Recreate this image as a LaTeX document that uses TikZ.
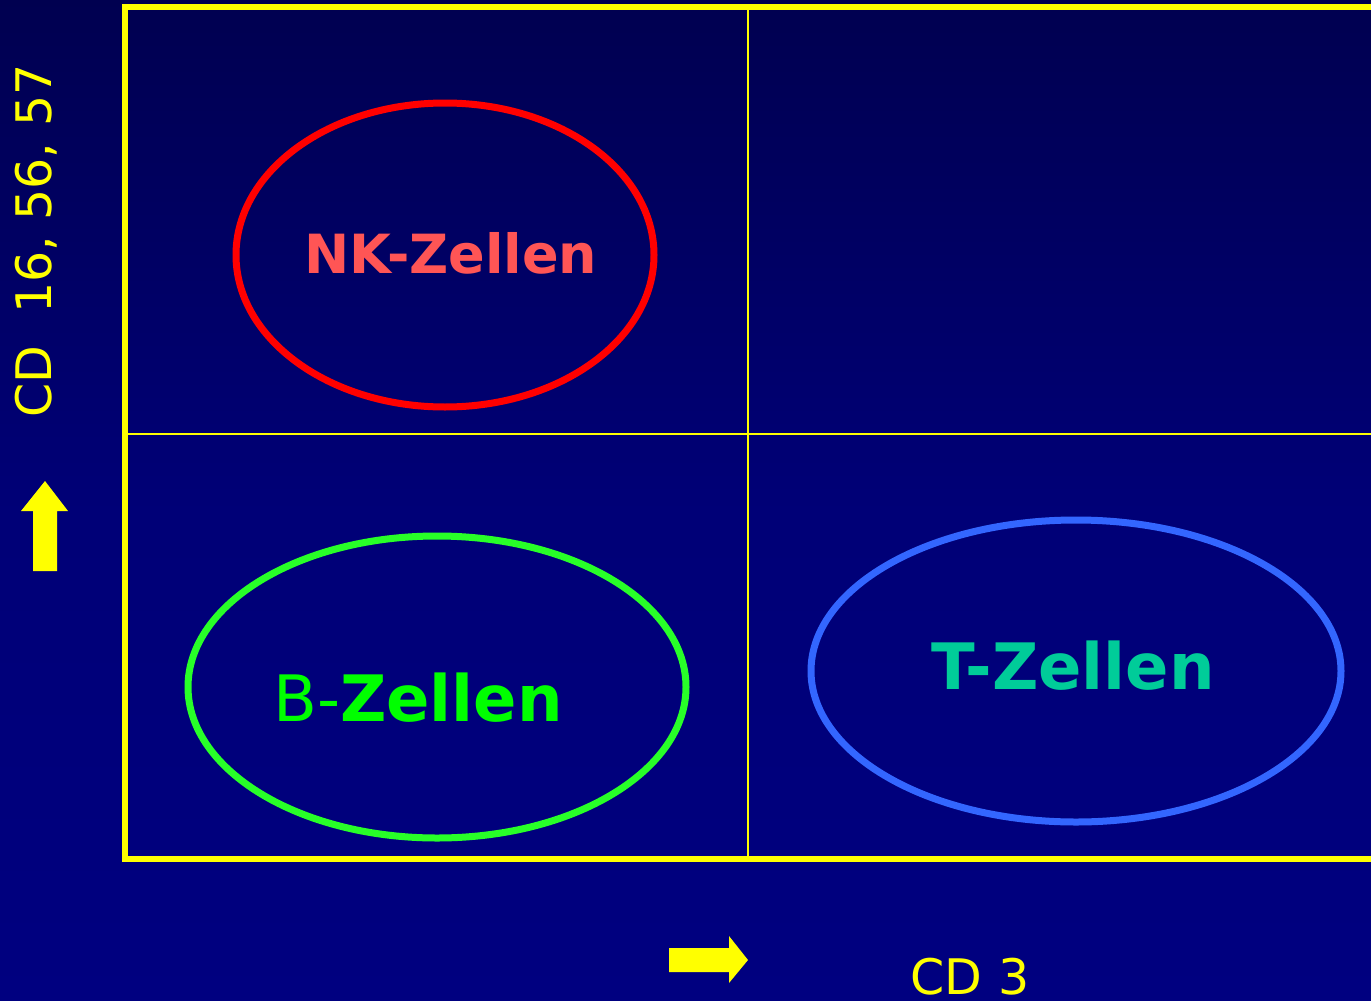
\documentclass[tikz,border=0pt]{standalone}
\usepackage{fontspec}
\setmainfont{DejaVu Sans}
\definecolor{navytop}{RGB}{0,0,80}
\definecolor{navybot}{RGB}{0,0,128}
\definecolor{plotyellow}{RGB}{255,255,0}
\definecolor{nkred}{RGB}{255,0,0}
\definecolor{nktext}{RGB}{255,85,85}
\definecolor{bgreen}{RGB}{40,255,40}
\definecolor{btext}{RGB}{0,255,0}
\definecolor{tblue}{RGB}{51,102,255}
\definecolor{ttext}{RGB}{0,204,153}
\tikzset{
  frameline/.style={draw=plotyellow, line width=6pt},
  gridline/.style={draw=plotyellow, line width=2pt},
  cellring/.style={line width=7pt},
  axislabel/.style={text=plotyellow, inner sep=0pt, font=\fontsize{49}{56}\selectfont},
  celllabel/.style={inner sep=0pt, font=\fontsize{64}{70}\selectfont\bfseries},
  blockarrow/.style={fill=plotyellow, draw=none}
}
\begin{document}
\begin{tikzpicture}[x=1pt, y=-1pt]
  \useasboundingbox (0,0) rectangle (1371,1001);
  \clip (0,0) rectangle (1371,1001);
  % background
  \shade[top color=navytop, bottom color=navybot, middle color=navybot!80!navytop] (0,0) rectangle (1371,1001);

  % plot frame and quadrant lines
  \draw[frameline] (125,7) rectangle (1390,859);
  \draw[gridline] (748,7) -- (748,859);
  \draw[gridline] (125,434) -- (1390,434);

  % cell populations
  \draw[cellring, draw=nkred] (445,255) ellipse [x radius=209, y radius=152];
  \node[celllabel, text=nktext, font=\fontsize{54}{60}\selectfont\bfseries, anchor=base] (nk) at (451,273) {NK-Zellen};

  \draw[cellring, draw=bgreen] (437,687) ellipse [x radius=249, y radius=151];
  \node[celllabel, text=btext, anchor=base] (bz) at (418,721) {\mdseries B-\bfseries Zellen};

  \draw[cellring, draw=tblue] (1076,671) ellipse [x radius=265, y radius=151];
  \node[celllabel, text=ttext, anchor=base] (tz) at (1073,689) {T-Zellen};

  % axis labels
  \node[axislabel, rotate=90] (yaxis) at (36,241) {CD\hspace{0.33em} 16, 56, 57};
  \node[axislabel, anchor=base] (xaxis) at (970,994) {CD 3};

  % axis arrows
  \fill[blockarrow] (33,571) -- (57,571) -- (57,511) -- (68,511) -- (45,481)
    -- (21,511) -- (33,511) -- cycle;
  \fill[blockarrow] (669,948) -- (729,948) -- (729,936) -- (748,960) -- (729,983)
    -- (729,972) -- (669,972) -- cycle;
\end{tikzpicture}
\end{document}
